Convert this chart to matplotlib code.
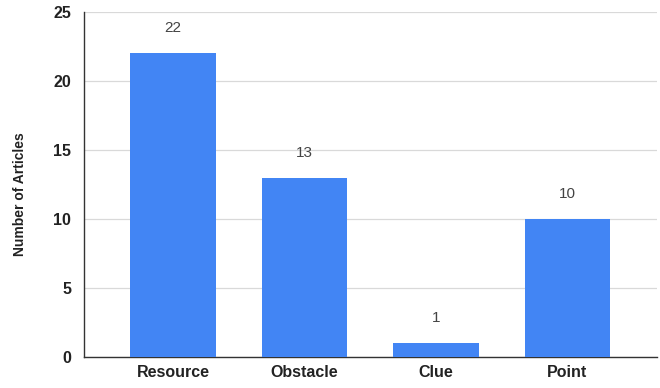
import matplotlib.pyplot as plt

categories = ["Resource", "Obstacle", "Clue", "Point"]
articles = [22, 13, 1, 10]
y_ticks = [0, 5, 10, 15, 20, 25]

plt.rcParams['font.family'] = ['Liberation Sans', 'DejaVu Sans']

fig = plt.figure(figsize=(6.6, 3.88), dpi=100)
ax = fig.add_axes([0.127, 0.08, 0.868, 0.889])

x = range(len(categories))
bars = ax.bar(x, articles, width=0.65, color='#4285F4', zorder=3)
for b, v in zip(bars, articles):
    ax.annotate(str(v), (b.get_x() + b.get_width() / 2, v),
                xytext=(0, 13), textcoords='offset points',
                ha='center', va='bottom', fontsize=11, color='#444444')

ax.set_xlim(-0.68, 3.68)
ax.set_ylim(0, 25)
ax.set_yticks(y_ticks)
ax.set_xticks(list(x))
ax.set_xticklabels(categories, fontsize=11.5, fontweight='bold', color='#222222')
ax.set_yticklabels([str(t) for t in y_ticks], fontsize=11.5, fontweight='bold', color='#222222')
ax.tick_params(axis='both', length=0)
ax.tick_params(axis='x', pad=6)
ax.tick_params(axis='y', pad=9)
ax.grid(axis='y', color='#d9d9d9', linewidth=0.9, zorder=0)

for side in ['top', 'right']:
    ax.spines[side].set_visible(False)
ax.spines['left'].set_color('#333333')
ax.spines['bottom'].set_color('#333333')
ax.spines['left'].set_linewidth(1.0)
ax.spines['bottom'].set_linewidth(1.0)

# y title sits centred on the whole figure height
fig.text(20 / 660, 0.5, "Number of Articles", rotation=90, ha='center', va='center',
         fontsize=10, fontweight='bold', color='#222222')

fig.savefig("out.png", dpi=100)
